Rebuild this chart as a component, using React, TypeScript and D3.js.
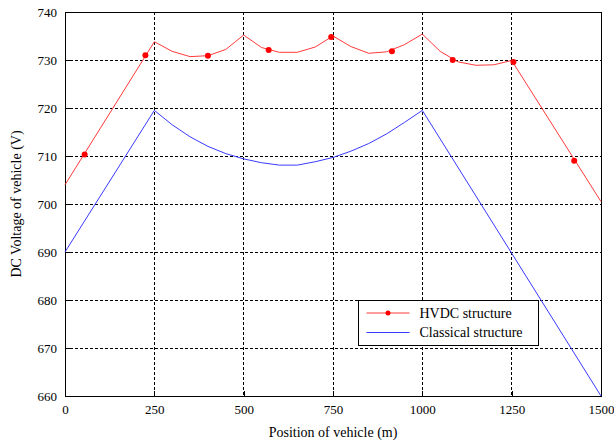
import React, { useEffect, useRef } from 'react'
import * as d3 from 'd3'

const xTicks = [0, 250, 500, 750, 1000, 1250, 1500]
const yTicks = [660, 670, 680, 690, 700, 710, 720, 730, 740]

// HVDC structure (red)
const hvdcX = [0, 250, 300, 350, 400, 450, 500, 550, 600, 650, 700, 750, 800, 850, 900, 950, 1000, 1050, 1100, 1150, 1200, 1250, 1500]
const hvdcY = [704, 733.8, 731.8, 730.7, 730.9, 732.2, 735.2, 732.6, 731.6, 731.6, 732.7, 735.0, 732.8, 731.4, 731.7, 733.2, 735.4, 731.8, 729.6, 728.9, 729.0, 729.9, 700.5]
const markerX = [55, 225, 400, 570, 745, 915, 1085, 1255, 1425]
const markerY = [710.3, 731.0, 730.9, 732.1, 734.8, 731.8, 730.0, 729.6, 709.0]

// Classical structure (blue)
const classicX = [0, 250, 300, 350, 400, 450, 500, 550, 600, 650, 700, 750, 800, 850, 900, 950, 1000, 1500]
const classicY = [690, 719.5, 716.5, 714, 712, 710.5, 709.4, 708.6, 708.1, 708.1, 708.8, 709.7, 711, 712.6, 714.6, 717, 719.5, 660]

const W = 614
const H = 444
const margin = { top: 12, right: 13, bottom: 48, left: 65 }
const font = '"Liberation Serif", "Times New Roman", serif'

export default function App() {
  const svgRef = useRef<SVGSVGElement>(null)

  useEffect(() => {
    document.body.style.margin = '0'
    if (!svgRef.current) return
    const svg = d3.select(svgRef.current)
    svg.selectAll('*').remove()

    const innerW = W - margin.left - margin.right
    const innerH = H - margin.top - margin.bottom

    const x = d3.scaleLinear().domain([0, 1500]).range([0, innerW])
    const y = d3.scaleLinear().domain([660, 740]).range([innerH, 0])

    svg.append('rect').attr('width', W).attr('height', H).attr('fill', '#fff')

    const g = svg.append('g').attr('transform', `translate(${margin.left},${margin.top})`)

    // grid
    g.selectAll('line.gx')
      .data(xTicks.slice(1, -1))
      .enter()
      .append('line')
      .attr('x1', d => x(d))
      .attr('x2', d => x(d))
      .attr('y1', 0)
      .attr('y2', innerH)
      .attr('stroke', '#000')
      .attr('stroke-width', 1)
      .attr('stroke-dasharray', '3,2')
      .attr('shape-rendering', 'crispEdges')

    g.selectAll('line.gy')
      .data(yTicks.slice(1, -1))
      .enter()
      .append('line')
      .attr('x1', 0)
      .attr('x2', innerW)
      .attr('y1', d => y(d))
      .attr('y2', d => y(d))
      .attr('stroke', '#000')
      .attr('stroke-width', 1)
      .attr('stroke-dasharray', '3,2')
      .attr('shape-rendering', 'crispEdges')

    // axes (ticks inside)
    const xAxis = g.append('g')
      .attr('transform', `translate(0,${innerH})`)
      .call(d3.axisBottom(x).tickValues(xTicks).tickSize(-5).tickPadding(9).tickFormat(d3.format('d')))
    const yAxis = g.append('g')
      .call(d3.axisLeft(y).tickValues(yTicks).tickSize(-5).tickPadding(8).tickFormat(d3.format('d')))
    for (const ax of [xAxis, yAxis]) {
      ax.select('.domain').remove()
      ax.selectAll('line').attr('stroke', '#000').attr('shape-rendering', 'crispEdges')
      ax.selectAll('text').attr('fill', '#000').style('font-family', font).style('font-size', '13px')
    }
    xAxis.selectAll('text').attr('dy', '0.71em')

    // box
    g.append('rect')
      .attr('width', innerW)
      .attr('height', innerH)
      .attr('fill', 'none')
      .attr('stroke', '#000')
      .attr('shape-rendering', 'crispEdges')

    const line = d3.line<[number, number]>().x(d => x(d[0])).y(d => y(d[1]))

    g.append('path')
      .datum(classicX.map((v, i) => [v, classicY[i]] as [number, number]))
      .attr('d', line)
      .attr('fill', 'none')
      .attr('stroke', '#3a3aff')
      .attr('stroke-width', 1)

    g.append('path')
      .datum(hvdcX.map((v, i) => [v, hvdcY[i]] as [number, number]))
      .attr('d', line)
      .attr('fill', 'none')
      .attr('stroke', '#ff3a3a')
      .attr('stroke-width', 1)

    g.selectAll('circle.m')
      .data(markerX.map((v, i) => [v, markerY[i]]))
      .enter()
      .append('circle')
      .attr('cx', d => x(d[0]))
      .attr('cy', d => y(d[1]))
      .attr('r', 3)
      .attr('fill', '#f00')

    // legend
    const lg = svg.append('g').attr('transform', 'translate(358.5,300.5)')
    lg.append('rect').attr('width', 180).attr('height', 45).attr('fill', '#fff').attr('stroke', '#000')
    const items = [
      { label: 'HVDC structure', color: '#ff3a3a', marker: true },
      { label: 'Classical structure', color: '#3a3aff', marker: false },
    ]
    items.forEach((it, i) => {
      const yy = 12.5 + i * 19.5
      lg.append('line').attr('x1', 8).attr('x2', 51).attr('y1', yy).attr('y2', yy).attr('stroke', it.color)
      if (it.marker) lg.append('circle').attr('cx', 29.5).attr('cy', yy).attr('r', 2.5).attr('fill', '#f00')
      lg.append('text')
        .attr('x', 61)
        .attr('y', yy)
        .attr('dy', '0.35em')
        .style('font-family', font)
        .style('font-size', '14px')
        .text(it.label)
    })

    // axis labels
    svg.append('text')
      .attr('x', margin.left + innerW / 2)
      .attr('y', 437)
      .attr('text-anchor', 'middle')
      .style('font-family', font)
      .style('font-size', '14px')
      .text('Position of vehicle (m)')

    svg.append('text')
      .attr('transform', `translate(21,${margin.top + innerH / 2}) rotate(-90)`)
      .attr('text-anchor', 'middle')
      .style('font-family', font)
      .style('font-size', '14px')
      .text('DC Voltage of vehicle (V)')
  }, [])

  return (
    <svg ref={svgRef} width={W} height={H} style={{ display: 'block' }} />
  )
}
